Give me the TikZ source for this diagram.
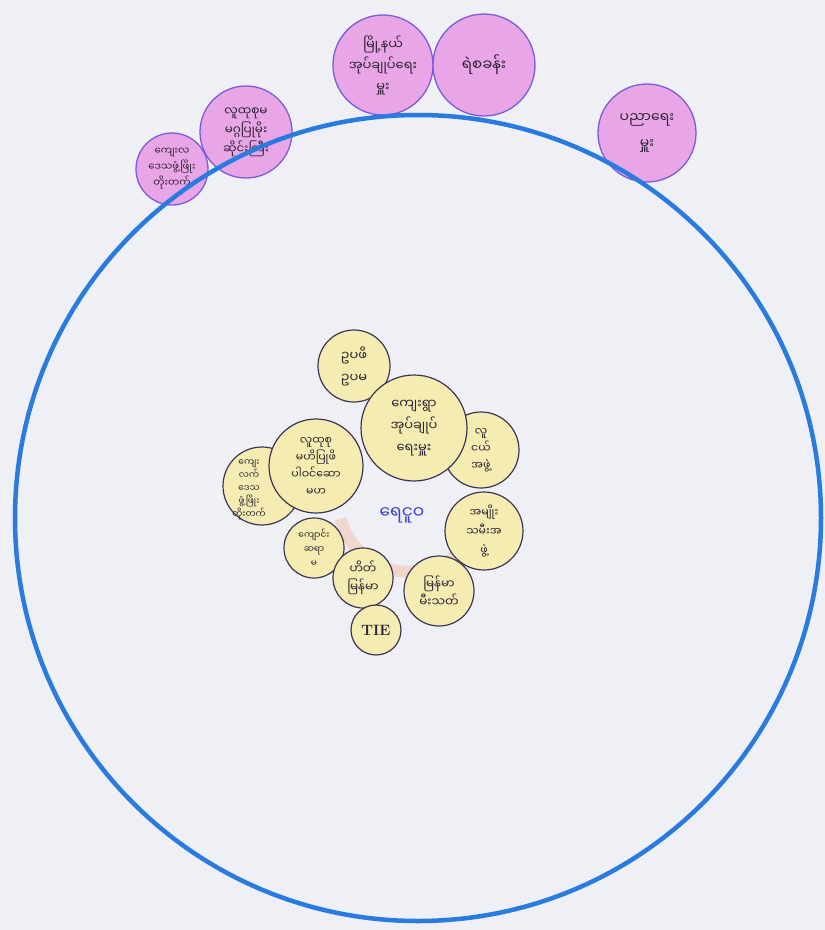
\documentclass[tikz,border=0pt]{standalone}
\usepackage{fontspec}
\newfontfamily\mmfont[Script=Myanmar]{Noto Sans Myanmar UI}
\definecolor{paper}{HTML}{EEF0F6}
\definecolor{ringblue}{HTML}{2A7BE0}
\definecolor{pinkfill}{HTML}{E9A6E6}
\definecolor{pinkline}{HTML}{7B5BD6}
\definecolor{creamfill}{HTML}{F4ECB0}
\definecolor{creamline}{HTML}{3E3458}
\definecolor{inkdark}{HTML}{2B2233}
\definecolor{inkblue}{HTML}{3C3CD0}
\definecolor{crayon}{HTML}{F2A070}

\begin{document}
\begin{tikzpicture}[x=1pt, y=-1pt,
    outsider/.style={circle, draw=pinkline, fill=pinkfill, line width=1.3pt, inner sep=0pt,
        align=center, text=inkdark, font=\mmfont\fontsize{13}{21}\selectfont},
    insider/.style={circle, draw=creamline, fill=creamfill, line width=1.2pt, inner sep=0pt,
        align=center, text=inkdark, font=\mmfont\fontsize{12}{18}\selectfont}]
    \useasboundingbox[fill=paper] (0,0) rectangle (825,930);

    % outside organisations
    \node[outsider, minimum size=100pt] (township) at (383,65) {မြို့နယ်\\အုပ်ချုပ်ရေး\\မှူး};
    \node[outsider, minimum size=102pt, font=\mmfont\fontsize{15}{21}\selectfont] (police) at (484,65) {ရဲစခန်း};
    \node[outsider, minimum size=98pt, font=\mmfont\fontsize{14}{26}\selectfont] (education) at (647,133) {ပညာရေး\\မှူး};
    \node[outsider, minimum size=92pt, font=\mmfont\fontsize{12}{19}\selectfont] (communityout) at (246,132) {လူထုစုမ\\မဂ္ဂပြုမိုး\\ဆိုင်းကြီး};
    \node[outsider, minimum size=72pt, font=\mmfont\fontsize{10}{16}\selectfont] (ruralout) at (172,169) {ကျေးလ\\ဒေသဖွံ့ဖြိုး\\တိုးတက်};

    % village boundary
    \draw[ringblue, line width=4.5pt] (418,518) circle (403);

    % crayon ring
    \draw[crayon, line width=12pt, opacity=0.3] (410,500) ++(15:72) arc (15:165:72);

    % inside organisations
    \node[insider, minimum size=78pt] (ruralin) at (262,486) {};
    \node[align=center, text=inkdark, font=\mmfont\fontsize{9}{13}\selectfont] (ruralinlabel) at (249,490) {ကျေး\\လက်\\ဒေသ\\ဖွံ့ဖြိုး\\တိုးတက်};
    \node[insider, minimum size=76pt, font=\mmfont\fontsize{11}{17}\selectfont] (youth) at (481,450) {လူ\\ငယ်\\အဖွဲ့};
    \node[insider, minimum size=72pt, font=\mmfont\fontsize{13}{22}\selectfont] (upama) at (354,366) {ဥပဖိ\\ဥပမ};
    \node[insider, minimum size=106pt, font=\mmfont\fontsize{13}{22}\selectfont] (headman) at (414,428) {ကျေးရွာ\\အုပ်ချုပ်\\ရေးမှူး};
    \node[insider, minimum size=94pt, font=\mmfont\fontsize{11}{17}\selectfont] (communityin) at (316,466) {လူထုစု\\မဟိပြုဖိ\\ပါဝင်ဆော\\မဟ};
    \node[insider, minimum size=78pt, font=\mmfont\fontsize{11}{19}\selectfont] (women) at (484,531) {အမျိုး\\သမီးအ\\ဖွဲ့};
    \node[insider, minimum size=60pt, font=\mmfont\fontsize{9}{14}\selectfont] (school) at (314,548) {ကျောင်း\\ဆရာ\\မ};
    \node[insider, minimum size=60pt] (help) at (363,578) {ဟိတ်\\မြန်မာ};
    \node[insider, minimum size=70pt] (fire) at (439,591) {မြန်မာ\\မီးသတ်};
    \node[insider, minimum size=50pt, font=\bfseries\fontsize{15}{17}\selectfont] (tie) at (376,630) {TIE};

    % village name
    \node[text=inkblue, font=\mmfont\fontsize{17}{20}\selectfont] (name) at (402,515) {ရေငူဝ};
\end{tikzpicture}
\end{document}
